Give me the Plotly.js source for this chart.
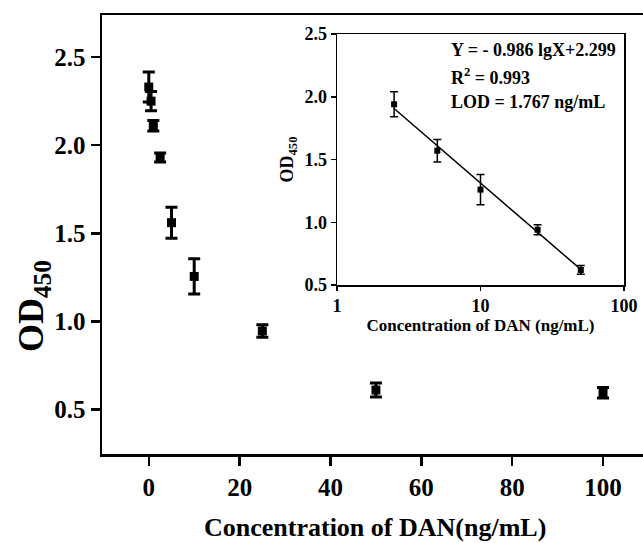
<!DOCTYPE html>
<html><head><meta charset="utf-8">
<script src="https://cdn.plot.ly/plotly-3.0.1.min.js"></script>
<style>html,body{margin:0;padding:0;background:#fff}#chart{width:643px;height:543px}</style>
</head><body><div id="chart"></div>
<script>
// Main plot data
const mainConc = [0, 0.5, 1, 2.5, 5, 10, 25, 50, 100];
const mainOD = [2.33, 2.25, 2.11, 1.93, 1.56, 1.255, 0.945, 0.61, 0.595];
const mainErr = [0.085, 0.055, 0.03, 0.025, 0.088, 0.1, 0.035, 0.04, 0.03];
const mainXTicks = [0, 20, 40, 60, 80, 100];

// Inset (calibration) data
const insetConc = [2.5, 5, 10, 25, 50];
const insetOD = [1.94, 1.57, 1.26, 0.94, 0.62];
const insetErr = [0.1, 0.09, 0.12, 0.04, 0.035];
const fitX = [2.5, 50];
const fitY = [1.906, 0.624];
const insetXTicks = [1, 10, 100];
const insetXTickText = ['1', '10', '100'];
const eqLines = ['Y = - 0.986 lgX+2.299', 'R<sup>2</sup> = 0.993', 'LOD = 1.767 ng/mL'];

const F = 'Liberation Serif, Times New Roman, serif';
const traces = [
  {x: mainConc, y: mainOD, type: 'scatter', mode: 'markers', xaxis: 'x', yaxis: 'y',
   marker: {symbol: 'square', size: 9, color: '#000'},
   error_y: {type: 'data', array: mainErr, visible: true, color: '#000', thickness: 3, width: 6}},
  {x: fitX, y: fitY, type: 'scatter', mode: 'lines', xaxis: 'x2', yaxis: 'y2',
   line: {color: '#000', width: 1.5}},
  {x: insetConc, y: insetOD, type: 'scatter', mode: 'markers', xaxis: 'x2', yaxis: 'y2',
   marker: {symbol: 'square', size: 6, color: '#000'},
   error_y: {type: 'data', array: insetErr, visible: true, color: '#000', thickness: 1.5, width: 4}}
];

const W = 541, H = 439, L = 102, B = 454;
const px = v => (v - L) / W;
const py = v => (B - v) / H;

const annotations = [
  {text: 'OD<sub>450</sub>', xref: 'paper', yref: 'paper', x: px(33), y: py(306),
   xanchor: 'center', yanchor: 'middle', textangle: -90, showarrow: false,
   font: {family: F, size: 36, color: '#000', weight: 'bold'}},
  {text: 'Concentration of DAN(ng/mL)', xref: 'paper', yref: 'paper', x: px(375), y: py(527),
   xanchor: 'center', yanchor: 'middle', showarrow: false,
   font: {family: F, size: 26, color: '#000', weight: 'bold'}}
];
const eqY = [50, 77, 102];
eqLines.forEach((t, i) => annotations.push({
  text: t, xref: 'paper', yref: 'paper', x: px(449), y: py(eqY[i]),
  xanchor: 'left', yanchor: 'middle', showarrow: false,
  font: {family: F, size: 18, color: '#000', weight: 'bold'}
}));

const layout = {
  width: 643, height: 543,
  margin: {l: L, r: 0, t: 15, b: 543 - B},
  paper_bgcolor: '#fff', plot_bgcolor: '#fff',
  showlegend: false,
  font: {family: F, color: '#000'},
  xaxis: {domain: [0, 1], range: [-10.3, 108.8], tickvals: mainXTicks,
    showgrid: false, zeroline: false, showline: true, linewidth: 2.5, linecolor: '#000',
    mirror: true, ticks: 'outside', ticklen: 9, tickwidth: 2.5, tickcolor: '#000',
    tickfont: {family: F, size: 25, color: '#000', weight: 'bold'}},
  yaxis: {domain: [0, 1], range: [0.247, 2.739], dtick: 0.5, tick0: 0.5, tickformat: '.1f',
    showgrid: false, zeroline: false, showline: true, linewidth: 2.5, linecolor: '#000',
    ticks: 'outside', ticklen: 9, tickwidth: 2.5, tickcolor: '#000',
    tickfont: {family: F, size: 25, color: '#000', weight: 'bold'}},
  xaxis2: {domain: [px(337), px(624)], anchor: 'y2', type: 'log', range: [0, 2],
    tickvals: insetXTicks, ticktext: insetXTickText,
    showgrid: false, zeroline: false, showline: true, linewidth: 1.5, linecolor: '#000',
    mirror: true, ticks: 'outside', ticklen: 4, tickwidth: 1.5, tickcolor: '#000',
    tickfont: {family: F, size: 18, color: '#000', weight: 'bold'},
    title: {text: 'Concentration of DAN (ng/mL)', standoff: 4,
      font: {family: F, size: 17, color: '#000', weight: 'bold'}}},
  yaxis2: {domain: [py(285), py(34)], anchor: 'x2', range: [0.5, 2.5], dtick: 0.5, tick0: 0.5,
    tickformat: '.1f',
    showgrid: false, zeroline: false, showline: true, linewidth: 1.5, linecolor: '#000',
    mirror: true, ticks: 'outside', ticklen: 5, tickwidth: 1.5, tickcolor: '#000',
    tickfont: {family: F, size: 18, color: '#000', weight: 'bold'},
    title: {text: 'OD<sub>450</sub>', standoff: 6,
      font: {family: F, size: 18, color: '#000', weight: 'bold'}}},
  annotations: annotations
};

Plotly.newPlot('chart', traces, layout, {displayModeBar: false, staticPlot: true});
</script>
</body></html>
